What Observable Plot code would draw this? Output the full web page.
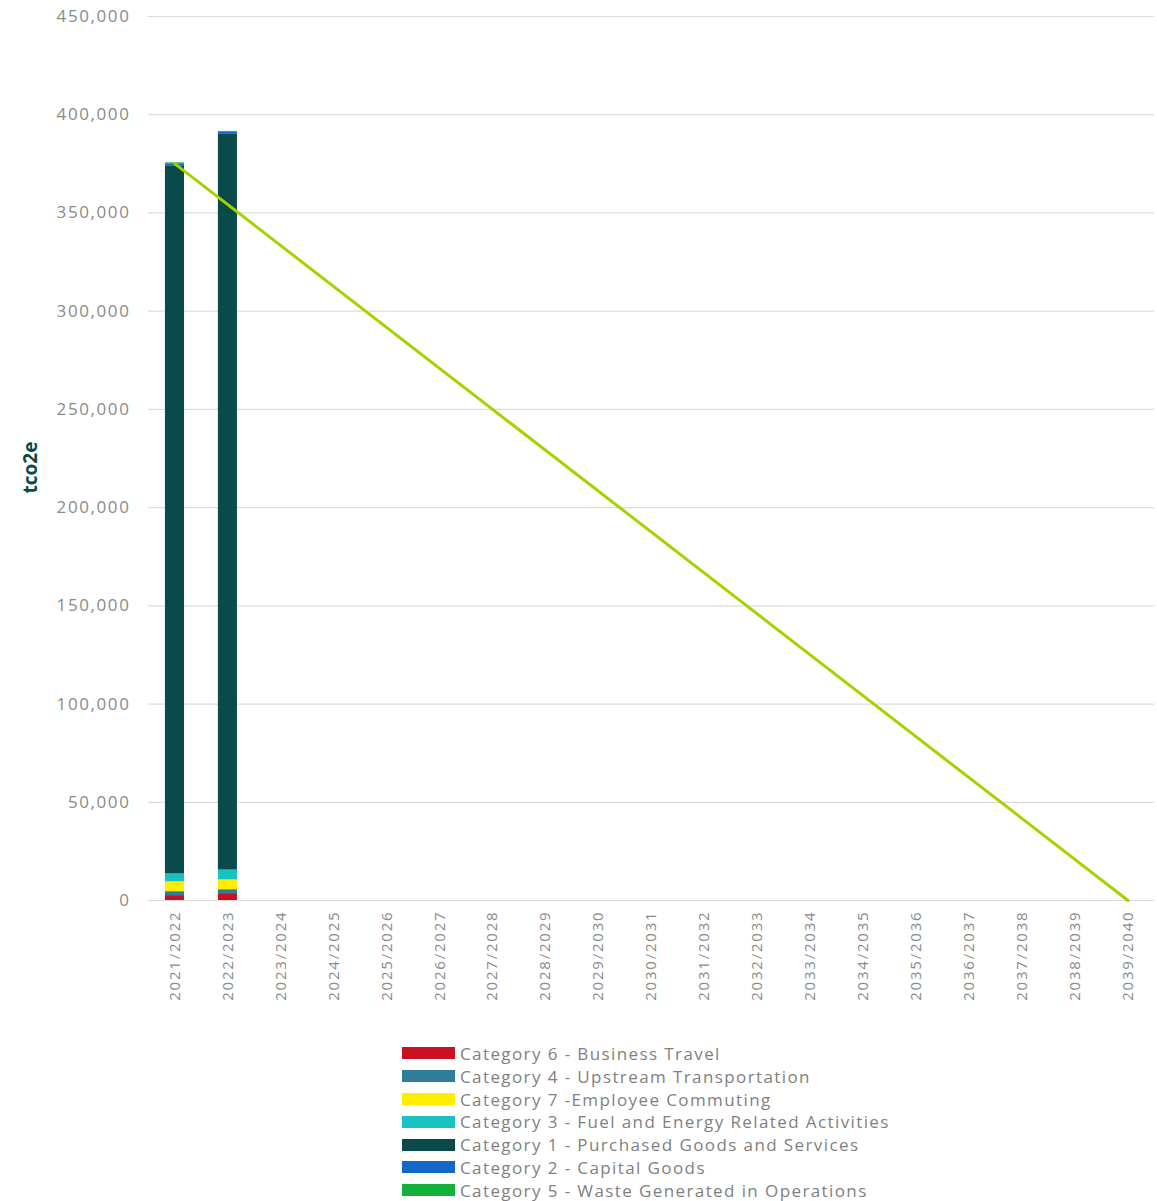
<!DOCTYPE html>
<html>
<head>
<meta charset="utf-8">
<script src="https://cdn.jsdelivr.net/npm/d3@7"></script>
<script src="https://cdn.jsdelivr.net/npm/@observablehq/plot@0.6"></script>
<style>
  body { margin: 0; background: #fff; font-family: "Open Sans", sans-serif; }
  #chart { position: relative; width: 1157px; }
  #legend { margin-left: 402px; margin-top: 12px; }
  .row { display: flex; align-items: center; height: 22.8px; }
  .sw { width: 53px; height: 12px; margin-right: 5px; }
  .lab { font-size: 17px; color: #7f7f7f; letter-spacing: 1.4px; }
  g[aria-label="y-axis tick label"] text { letter-spacing: 1.6px; }
  g[aria-label="x-axis tick label"] text { letter-spacing: 1.8px; }
</style>
</head>
<body>
<div id="chart"></div>
<div id="legend"></div>
<script>
const years = ["2021/2022","2022/2023","2023/2024","2024/2025","2025/2026","2026/2027","2027/2028","2028/2029","2029/2030","2030/2031","2031/2032","2032/2033","2033/2034","2034/2035","2035/2036","2036/2037","2037/2038","2038/2039","2039/2040"];
const categories = [
  "Category 6 - Business Travel",
  "Category 4 - Upstream Transportation",
  "Category 7 -Employee Commuting",
  "Category 3 - Fuel and Energy Related Activities",
  "Category 1 - Purchased Goods and Services",
  "Category 2 - Capital Goods",
  "Category 5 - Waste Generated in Operations"
];
const colors = ["#c8101e", "#2f7d9a", "#ffee00", "#19c2c0", "#0b4a4a", "#1466c8", "#14b03c"];
const barYears = ["2021/2022", "2022/2023"];
const values2122 = [2500, 2000, 5000, 4000, 360500, 1000, 500];
const values2223 = [3500, 2000, 5000, 5000, 374500, 1000, 500];
const targetYears = ["2021/2022", "2039/2040"];
const targetValues = [375000, 0];
const yTicks = [0, 50000, 100000, 150000, 200000, 250000, 300000, 350000, 400000, 450000];

const barData = [];
[values2122, values2223].forEach((vals, i) => {
  vals.forEach((v, j) => barData.push({year: barYears[i], category: categories[j], value: v}));
});
const lineData = targetYears.map((y, i) => ({year: y, value: targetValues[i]}));

const chart = Plot.plot({
  width: 1157,
  height: 1030,
  marginTop: 16,
  marginBottom: 130,
  marginLeft: 148,
  marginRight: 3,
  style: {fontFamily: "'Open Sans', sans-serif", background: "#fff"},
  x: {domain: years, paddingInner: 0.64, paddingOuter: 0.32, round: false, label: null},
  y: {domain: [0, 450000], label: null},
  color: {domain: categories, range: colors},
  marks: [
    Plot.gridY(yTicks, {stroke: "#dcdcdc", strokeOpacity: 1, strokeWidth: 1.2}),
    Plot.barY(barData, {x: "year", y: "value", fill: "category", order: categories}),
    Plot.line(lineData, {x: "year", y: "value", stroke: "#a6d200", strokeWidth: 3}),
    Plot.axisX({tickRotate: -90, tickSize: 0, tickPadding: 10, fontSize: 15, fill: "#8a8a8a", label: null}),
    Plot.axisY(yTicks, {tickFormat: d3.format(","), tickSize: 0, tickPadding: 18, fontSize: 17, fill: "#8a8a8a", label: null}),
    Plot.text(["tco2e"], {frameAnchor: "left", textAnchor: "middle", dx: -118, dy: 9, rotate: -90, fontSize: 19, fontWeight: "bold", fill: "#0b4a4a"})
  ]
});
document.getElementById("chart").appendChild(chart);

const leg = document.getElementById("legend");
categories.forEach((c, i) => {
  const r = document.createElement("div");
  r.className = "row";
  r.innerHTML = `<div class="sw" style="background:${colors[i]}"></div><div class="lab">${c}</div>`;
  leg.appendChild(r);
});
</script>
</body>
</html>
